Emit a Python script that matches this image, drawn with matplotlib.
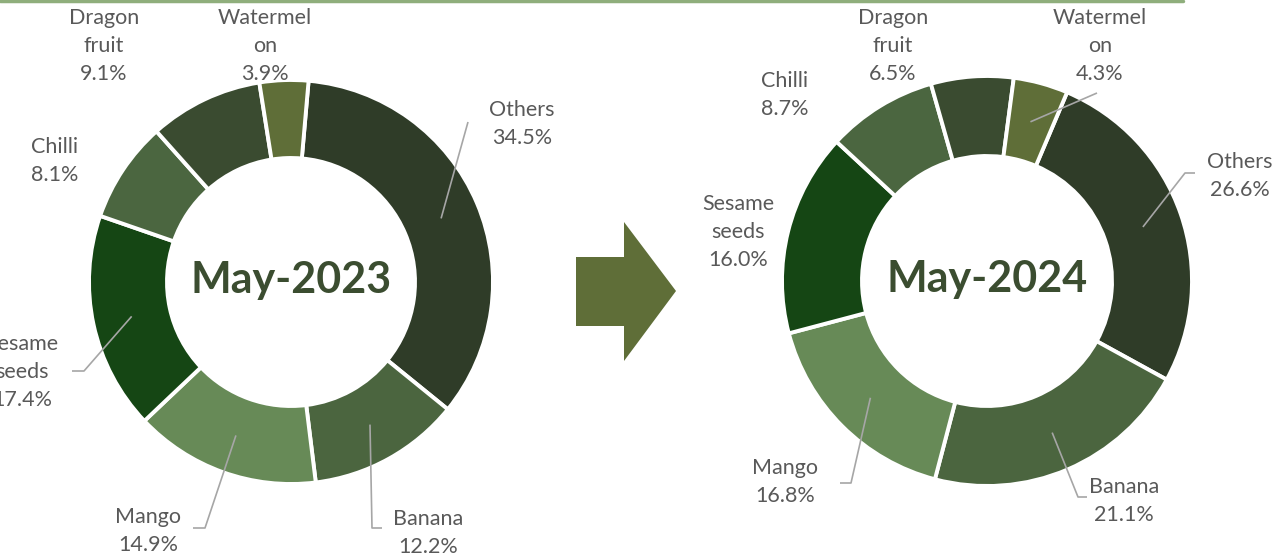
import numpy as np
import matplotlib
matplotlib.use("Agg")
import matplotlib.pyplot as plt
from matplotlib.patches import Polygon

# ---------------- data ----------------
categories = ["Others", "Banana", "Mango", "Sesame\nseeds", "Chilli", "Dragon\nfruit", "Watermel\non"]
share_2023 = [34.5, 12.2, 14.9, 17.4, 8.1, 9.1, 3.9]
share_2024 = [26.6, 21.1, 16.8, 16.0, 8.7, 6.5, 4.3]
titles = ["May-2023", "May-2024"]

colors = ["#2f3c28", "#4b653f", "#678a57", "#154614", "#4b6640", "#3a4b30", "#5f6e38"]

# ---------------- layout (pixels, y from top) ----------------
W, H = 1276, 559
DPI = 100
fig = plt.figure(figsize=(W / DPI, H / DPI), dpi=DPI)
ax = fig.add_axes([0, 0, 1, 1])

def Y(y):
    return H - y

donuts = [
    dict(values=share_2023, center=(291, 282), radius=202, width=78, start=85,
         labels={0: (522, 124), 1: (428, 533), 2: (148, 531), 3: (22, 372),
                 4: (55, 161), 5: (104, 46), 6: (265, 46)},
         leaders={0: [(468, 122)],
                  1: [(382, 528), (372, 528)],
                  2: [(193, 528), (205, 528)],
                  3: [(72, 371), (84, 371)]}),
    dict(values=share_2024, center=(987, 281), radius=205, width=80, start=67,
         labels={0: (1240, 176), 1: (1124, 501), 2: (785, 482), 3: (738, 232),
                 4: (785, 95), 5: (893, 46), 6: (1100, 46)},
         leaders={6: [(1097, 93)],
                  0: [(1195, 173), (1185, 173)],
                  1: [(1087, 497), (1078, 497)],
                  2: [(840, 483), (851, 483)]}),
]

label_font = dict(family=["Lato", "DejaVu Sans"], fontsize=15.5, color="#595959")

for d, title in zip(donuts, titles):
    cx, cy = d["center"]
    wedges, _ = ax.pie(d["values"], colors=colors, startangle=d["start"], counterclock=False,
                       radius=d["radius"], center=(cx, Y(cy)),
                       wedgeprops=dict(width=d["width"], edgecolor="white", linewidth=2.8))
    r_mid = d["radius"] - d["width"] / 2
    for i, (cat, val) in enumerate(zip(categories, d["values"])):
        lx, ly = d["labels"][i]
        ax.text(lx, Y(ly), f"{cat}\n{val:.1f}%", ha="center", va="center",
                linespacing=1.5, **label_font)
        if i in d["leaders"]:
            w = wedges[i]
            mid = np.deg2rad((w.theta1 + w.theta2) / 2)
            px = cx + r_mid * np.cos(mid)
            py = Y(cy) + r_mid * np.sin(mid)
            pts = [(x, Y(y)) for x, y in d["leaders"][i]] + [(px, py)]
            xs, ys = zip(*pts)
            ax.plot(xs, ys, color="#a6a6a6", lw=1.2, solid_capstyle="butt", zorder=3)
    ax.text(cx, Y(cy - 2), title, ha="center", va="center", fontsize=31, fontweight="bold",
            family=["Lato", "DejaVu Sans"], color="#3b4d30")

# arrow between the donuts
arrow = Polygon([(576, Y(257)), (624, Y(257)), (624, Y(222)), (676, Y(291)),
                 (624, Y(361)), (624, Y(326)), (576, Y(326))],
                closed=True, facecolor="#5f6e38", edgecolor="none")
ax.add_patch(arrow)

# top border line
ax.plot([0, 1183], [Y(1), Y(1)], color="#8fae7c", lw=2.5, solid_capstyle="round")

ax.set_xlim(0, W)
ax.set_ylim(0, H)
ax.set_aspect("equal")
ax.axis("off")

fig.savefig("out.png", dpi=DPI)
